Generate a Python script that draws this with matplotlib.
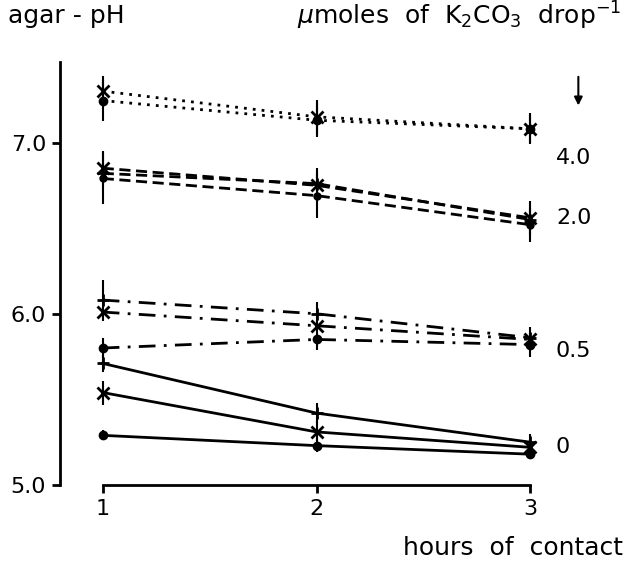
import matplotlib
matplotlib.use('Agg')
import matplotlib.pyplot as plt

# hours of contact
hours = [1, 2, 3]

# agar-pH, grouped by K2CO3 dose (umoles per drop)
ph_40_x = [7.30, 7.15, 7.08]
ph_40_o = [7.245, 7.13, 7.08]
err_40_x = [0.09, 0.10, 0.09]
err_40_o = [0.12, 0.10, 0.08]

ph_20_x = [6.85, 6.75, 6.56]
ph_20_p = [6.82, 6.76, 6.55]
ph_20_o = [6.79, 6.69, 6.52]
err_20_x = [0.10, 0.10, 0.10]
err_20_o = [0.15, 0.13, 0.10]

ph_05_p = [6.08, 6.00, 5.86]
ph_05_x = [6.01, 5.93, 5.85]
ph_05_o = [5.80, 5.85, 5.82]
err_05_p = [0.12, 0.07, 0.06]
err_05_o = [0.06, 0.06, 0.07]

ph_0_p = [5.71, 5.42, 5.25]
ph_0_x = [5.54, 5.31, 5.22]
ph_0_o = [5.29, 5.23, 5.18]
err_0_p = [0.05, 0.06, 0.05]
err_0_x = [0.07, 0.06, 0.05]
err_0_o = [0.03, 0.04, 0.03]

dose_labels = ['4.0', '2.0', '0.5', '0']
dose_label_y = [6.91, 6.56, 5.78, 5.22]

plt.rcParams['font.family'] = ['DejaVu Sans']

fig = plt.figure(figsize=(6.31, 5.67), dpi=100)
ax = fig.add_axes([0.0951, 0.1446, 0.813, 0.746])

def serie(y, err, ls, mk, ms):
    ax.errorbar(hours, y, yerr=err, color='black', linestyle=ls, linewidth=2,
                marker=mk, markersize=ms, markeredgewidth=2,
                elinewidth=1.5, capsize=0, zorder=3)

dot = (0, (1, 2.2))
dash = (0, (4, 2))
dashdot = (0, (6, 3, 1, 3))

serie(ph_40_x, err_40_x, dot, 'x', 8)
serie(ph_40_o, err_40_o, dot, 'o', 5)

serie(ph_20_x, err_20_x, dash, 'x', 8)
serie(ph_20_p, None, dash, '+', 9)
serie(ph_20_o, err_20_o, dash, 'o', 4)

serie(ph_05_p, err_05_p, dashdot, '+', 9)
serie(ph_05_x, None, dashdot, 'x', 8)
serie(ph_05_o, err_05_o, dashdot, 'o', 5)

serie(ph_0_p, err_0_p, '-', '+', 9)
serie(ph_0_x, err_0_x, '-', 'x', 8)
serie(ph_0_o, err_0_o, '-', 'o', 5)

ax.set_xlim(0.8, 3.2)
ax.set_ylim(5.0, 7.47)
ax.spines['top'].set_visible(False)
ax.spines['right'].set_visible(False)
ax.spines['left'].set_linewidth(2)
ax.spines['bottom'].set_linewidth(2)
ax.spines['bottom'].set_bounds(1, 3)

ax.set_xticks(hours)
ax.set_xticklabels(['1', '2', '3'])
ax.set_yticks([5.0, 6.0, 7.0])
ax.set_yticklabels(['5.0', '6.0', '7.0'])
ax.tick_params(axis='both', direction='out', length=6, width=2,
               labelsize=16, pad=4)

for lab, yy in zip(dose_labels, dose_label_y):
    ax.text(3.12, yy, lab, fontsize=16, va='center', ha='left', clip_on=False)

ax.annotate('', xy=(3.225, 7.2), xytext=(3.225, 7.40),
            arrowprops=dict(arrowstyle='-|>', color='black', lw=1.5,
                            mutation_scale=12),
            annotation_clip=False)

fig.text(0.013, 0.972, 'agar - pH', fontsize=18, va='center', ha='left')
fig.text(0.985, 0.972, r'$\mu$moles  of  K$_2$CO$_3$  drop$^{-1}$', fontsize=18,
         va='center', ha='right')
fig.text(0.988, 0.033, 'hours  of  contact', fontsize=18, va='center', ha='right')

fig.savefig('out.png', dpi=100)
